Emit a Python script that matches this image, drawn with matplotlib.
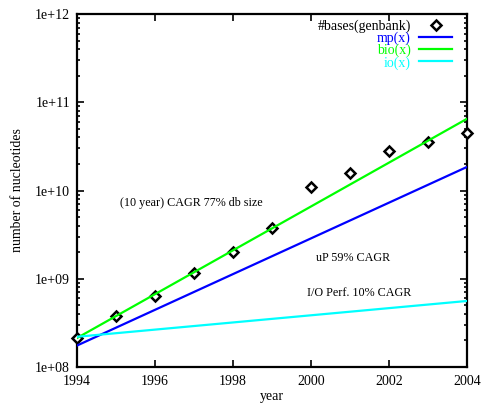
import numpy as np
import matplotlib
matplotlib.use("Agg")
import matplotlib.pyplot as plt
from matplotlib.ticker import FixedLocator, LogLocator, NullFormatter

plt.rcParams['font.family'] = ['Liberation Serif', 'DejaVu Serif']
plt.rcParams['font.size'] = 10

# genbank database size
years = [1994, 1995, 1996, 1997, 1998, 1999, 2000, 2001, 2002, 2003, 2004]
bases = [2.13e8, 3.79e8, 6.4e8, 1.17e9, 2.02e9, 3.78e9, 1.11e10, 1.56e10,
         2.84e10, 3.59e10, 4.54e10]

# growth curves (straight in log space), endpoints at 1994 and 2004
fit_years = [1994, 2004]
mp_vals = [1.75e8, 1.85e10]
bio_vals = [2.13e8, 6.5e10]
io_vals = [2.2e8, 5.6e8]

ytick_vals = [1e8, 1e9, 1e10, 1e11, 1e12]
ytick_labels = ['1e+08', '1e+09', '1e+10', '1e+11', '1e+12']
xtick_vals = [1994, 1996, 1998, 2000, 2002, 2004]

fig = plt.figure(figsize=(4.83, 4.04), dpi=100)
ax = fig.add_axes([0.1594, 0.0916, 0.8075, 0.8737])

ax.plot(years, bases, linestyle='none', marker='D', markersize=5,
        markerfacecolor='white', markeredgecolor='black', markeredgewidth=1.8,
        clip_on=False, zorder=3, label='#bases(genbank)')
ax.plot(fit_years, mp_vals, color='#0000ff', lw=1.6, zorder=4, label='mp(x)')
ax.plot(fit_years, bio_vals, color='#00ff00', lw=1.6, zorder=4, label='bio(x)')
ax.plot(fit_years, io_vals, color='#00ffff', lw=1.6, zorder=4, label='io(x)')

ax.set_yscale('log')
ax.set_xlim(1994, 2004)
ax.set_ylim(1e8, 1e12)

ax.yaxis.set_major_locator(FixedLocator(ytick_vals))
ax.set_yticklabels(ytick_labels)
ax.yaxis.set_minor_locator(LogLocator(base=10, subs=np.arange(2, 10)))
ax.yaxis.set_minor_formatter(NullFormatter())
ax.xaxis.set_major_locator(FixedLocator(xtick_vals))
ax.set_xticklabels([str(v) for v in xtick_vals])

ax.tick_params(which='both', direction='in', top=True, right=True, width=1.2)
ax.tick_params(which='major', length=5)
ax.tick_params(which='minor', length=2.5)
ax.tick_params(axis='x', pad=6)
ax.tick_params(axis='y', pad=5)
for s in ax.spines.values():
    s.set_linewidth(1.6)

ax.set_xlabel('year', labelpad=1.5)
ax.set_ylabel('number of nucleotides', labelpad=8)

ax.text(1995.1, 7.3e9, '(10 year) CAGR 77% db size', ha='left', va='center', fontsize=8.7)
ax.text(2000.13, 1.73e9, 'uP 59% CAGR', ha='left', va='center', fontsize=8.7)
ax.text(1999.9, 6.9e8, 'I/O Perf. 10% CAGR', ha='left', va='center', fontsize=8.7)

leg = ax.legend(loc='upper right', bbox_to_anchor=(1 - 5 / 390, 1 + 4 / 353),
                frameon=False, markerfirst=False,
                handlelength=2.4, handletextpad=0.58, labelspacing=-0.1,
                borderaxespad=0.3,
                labelcolor=['black', '#0000ff', '#00ff00', '#00ffff'])
for t in leg.get_texts():
    t.set_ha('right')

fig.savefig('out.png', dpi=100)
